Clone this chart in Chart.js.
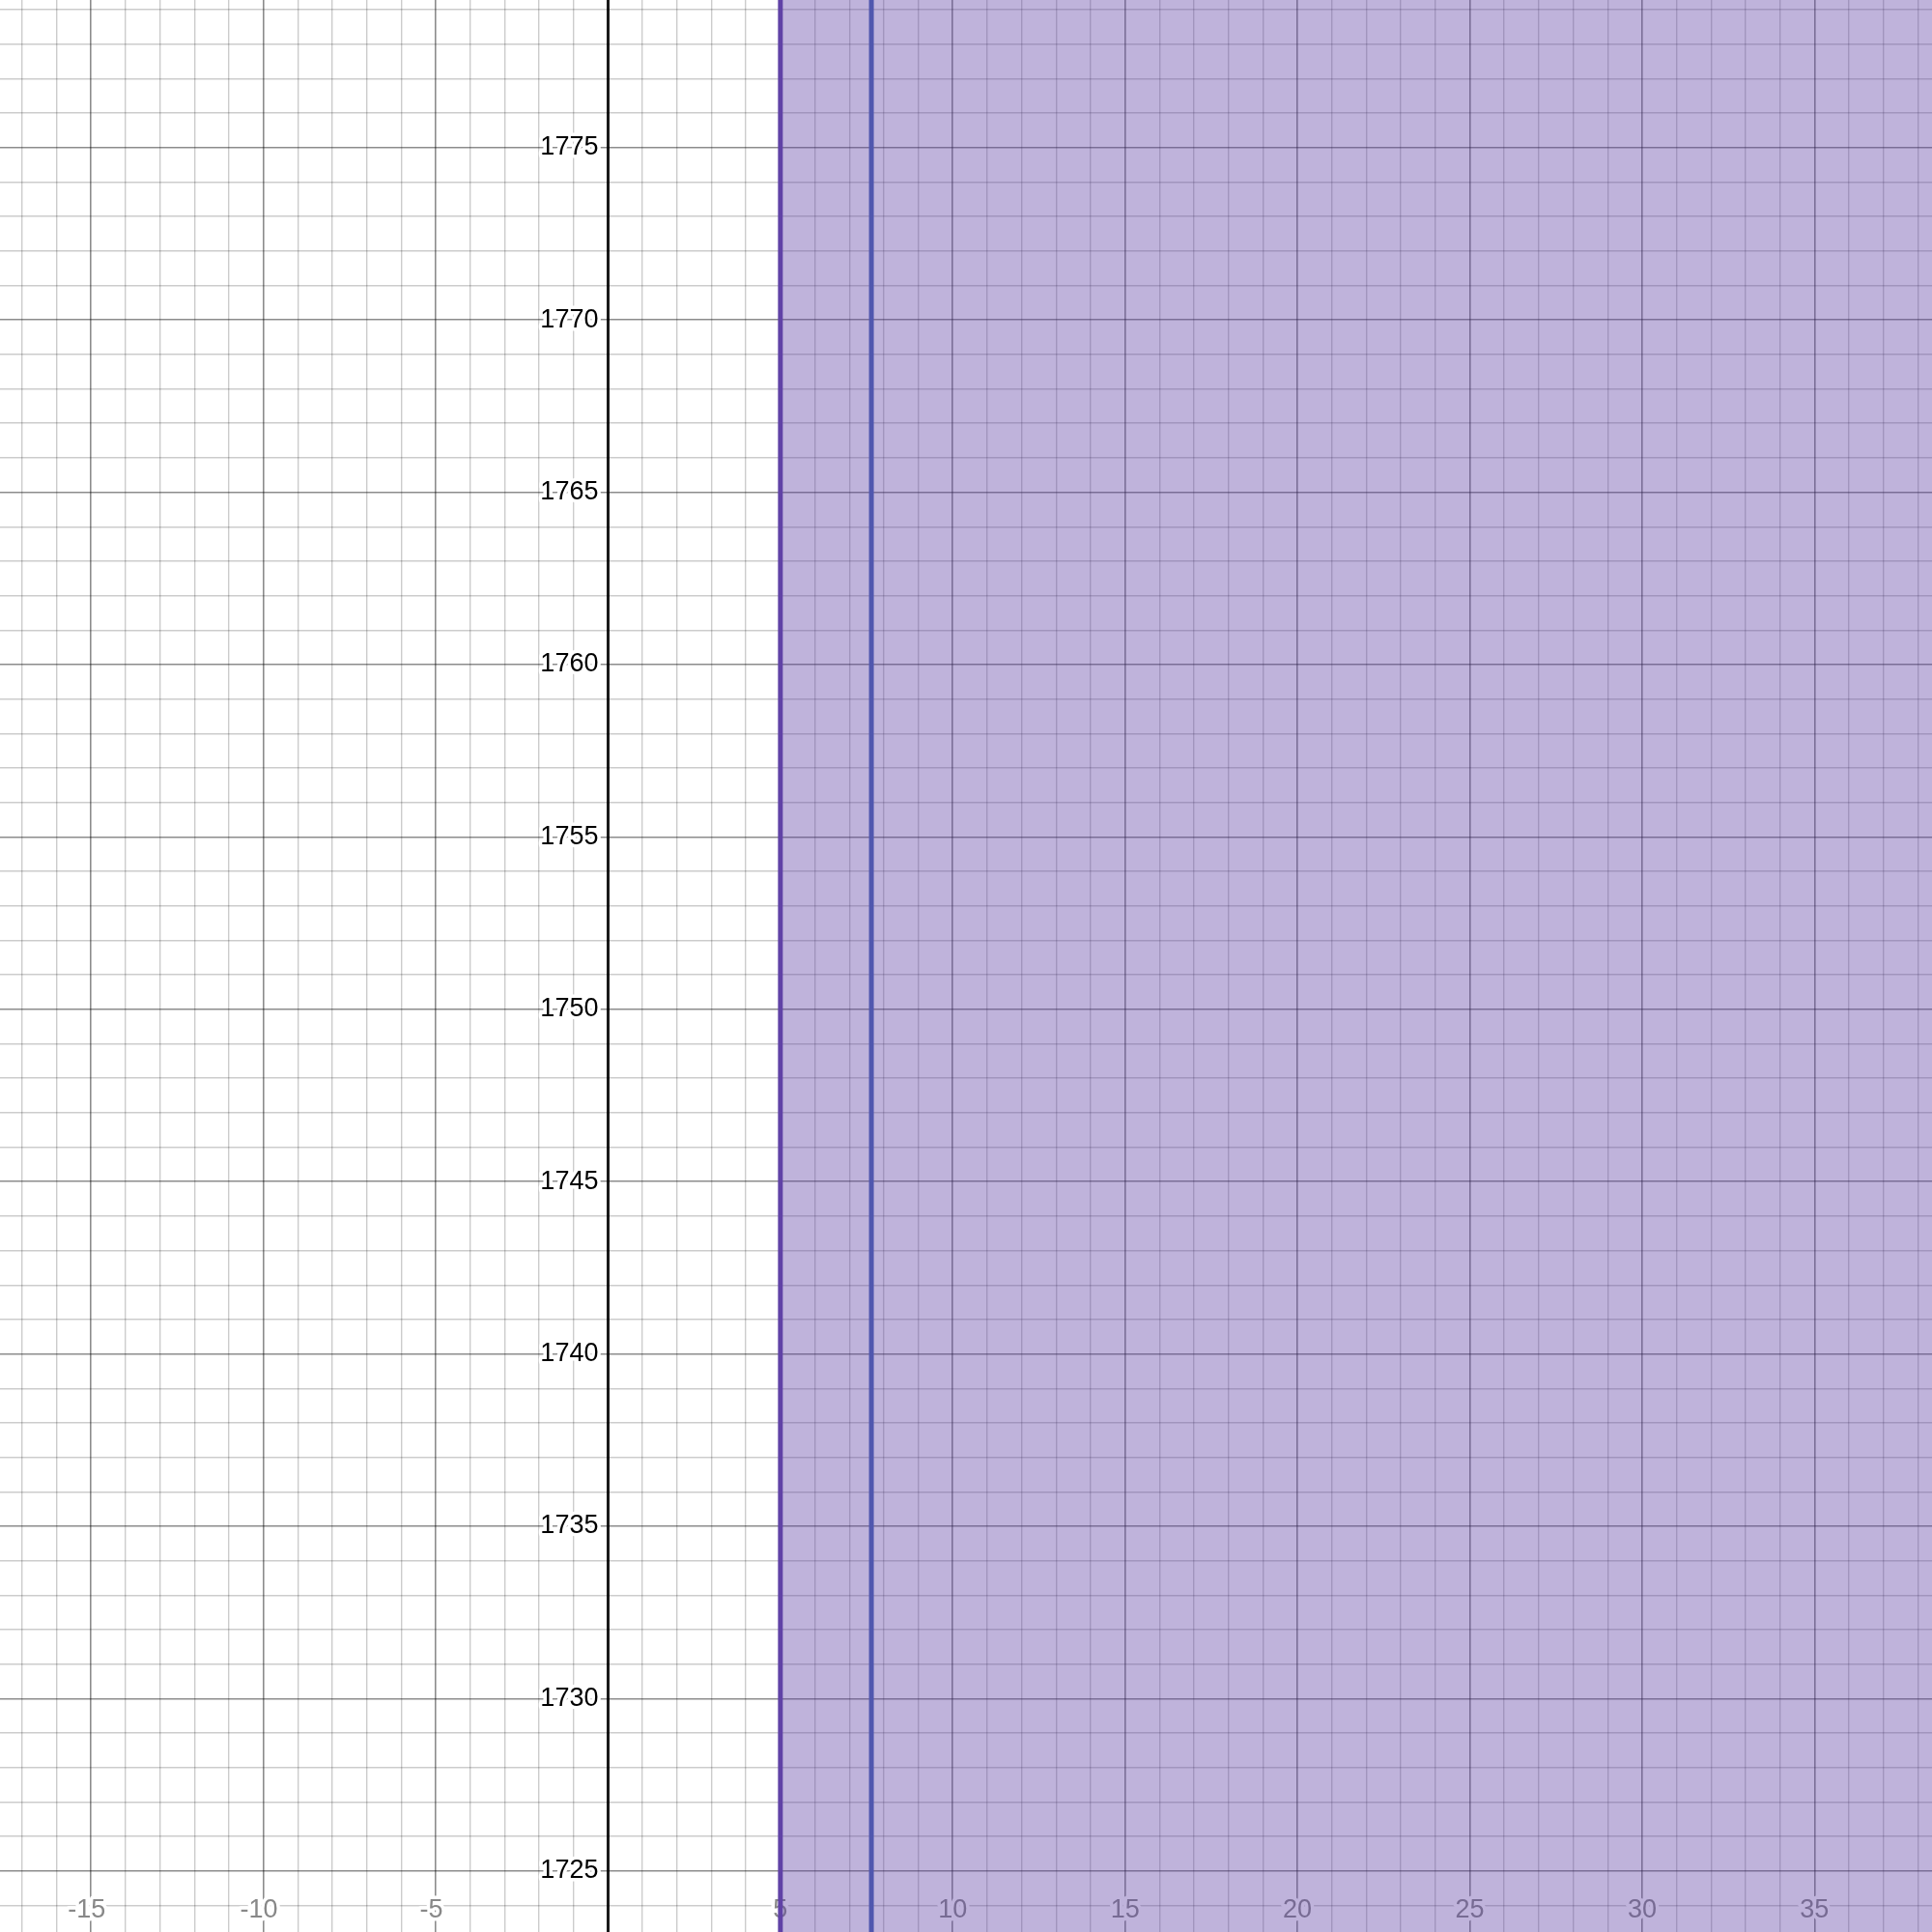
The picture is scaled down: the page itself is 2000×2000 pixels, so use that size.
<!DOCTYPE html>
<html>
<head>
<meta charset="utf-8">
<script src="https://cdn.jsdelivr.net/npm/chart.js@4/dist/chart.umd.min.js"></script>
<style>
  html, body { margin: 0; padding: 0; background: #fff; }
  canvas { display: block; }
</style>
</head>
<body>
<canvas id="grafico" width="2000" height="2000"></canvas>
<script>
// ventana visible
const xRange = [-17.64, 38.41];
const yRange = [1723.23, 1779.28];

// etiquetas de los ejes
const xLabels = [-15, -10, -5, 5, 10, 15, 20, 25, 30, 35];
const yLabels = [1725, 1730, 1735, 1740, 1745, 1750, 1755, 1760, 1765, 1770, 1775];

// region sombreada x >= 5 y linea azul
const shadeStart = [5];
const blueLineX = [7.64];

const fontLabel = '27px "Liberation Sans", Arial, sans-serif';

const gridColor = (ctx) => {
    const v = ctx.tick ? ctx.tick.value : 0;
    if (v === 0 && ctx.scale.axis === 'x') return '#1a1a1a';
    if (Math.round(v) % 5 === 0) return 'rgba(0,0,0,0.45)';
    return 'rgba(0,0,0,0.2)';
};
const gridWidth = (ctx) => {
    const v = ctx.tick ? ctx.tick.value : 0;
    if (v === 0 && ctx.scale.axis === 'x') return 3;
    return Math.round(v) % 5 === 0 ? 1.6 : 1.4;
};

// dibuja etiquetas con halo blanco antes de las series (quedan bajo el sombreado)
const etiquetas = {
    id: 'etiquetas',
    beforeDatasetsDraw(chart) {
        const ctx = chart.ctx;
        const xs = chart.scales.x;
        const ys = chart.scales.y;
        const x0 = xs.getPixelForValue(0);
        ctx.save();
        ctx.font = fontLabel;
        ctx.lineJoin = 'round';
        ctx.lineWidth = 7;
        ctx.strokeStyle = '#fff';

        ctx.textAlign = 'right';
        ctx.textBaseline = 'middle';
        ctx.fillStyle = '#000';
        yLabels.forEach(v => {
            const py = ys.getPixelForValue(v);
            ctx.strokeText(String(v), x0 - 10, py);
            ctx.fillText(String(v), x0 - 10, py);
        });

        // los digitos quedan centrados en la linea, el signo menos cuelga a la izquierda
        ctx.textAlign = 'left';
        ctx.fillStyle = '#888888';
        const minusW = ctx.measureText('-').width;
        xLabels.forEach(v => {
            const px = xs.getPixelForValue(v);
            const digits = String(Math.abs(v));
            const w = ctx.measureText(digits).width;
            const txt = v < 0 ? '-' + digits : digits;
            const left = px - w / 2 - (v < 0 ? minusW : 0);
            const py = chart.height - 22;
            ctx.strokeText(txt, left, py);
            ctx.fillText(txt, left, py);
        });
        ctx.restore();
    }
};

const ctx = document.getElementById('grafico').getContext('2d');

new Chart(ctx, {
    type: 'scatter',
    data: {
        datasets: [
            {
                // linea azul
                data: [{ x: blueLineX[0], y: yRange[0] - 5 }, { x: blueLineX[0], y: yRange[1] + 5 }],
                showLine: true,
                borderColor: '#4767b5',
                borderWidth: 5,
                pointRadius: 0,
                fill: false,
                order: 3,
            },
            {
                // sombreado
                data: [{ x: shadeStart[0], y: yRange[1] + 5 }, { x: xRange[1] + 5, y: yRange[1] + 5 }],
                showLine: true,
                borderWidth: 0,
                borderColor: 'rgba(0,0,0,0)',
                backgroundColor: 'rgba(96,66,166,0.4)',
                pointRadius: 0,
                fill: 'start',
                order: 2,
            },
            {
                // borde de la region
                data: [{ x: shadeStart[0], y: yRange[0] - 5 }, { x: shadeStart[0], y: yRange[1] + 5 }],
                showLine: true,
                borderColor: '#6042a6',
                borderWidth: 5,
                pointRadius: 0,
                fill: false,
                order: 1,
            },
        ],
    },
    options: {
        responsive: false,
        animation: false,
        devicePixelRatio: 1,
        layout: { padding: 0 },
        plugins: {
            legend: { display: false },
            tooltip: { enabled: false },
        },
        scales: {
            x: {
                type: 'linear',
                min: xRange[0],
                max: xRange[1],
                ticks: { display: false, stepSize: 1, includeBounds: false },
                grid: { color: gridColor, lineWidth: gridWidth, drawTicks: false },
                border: { display: false },
            },
            y: {
                type: 'linear',
                min: yRange[0],
                max: yRange[1],
                ticks: { display: false, stepSize: 1, includeBounds: false },
                grid: { color: gridColor, lineWidth: gridWidth, drawTicks: false },
                border: { display: false },
            },
        },
    },
    plugins: [etiquetas],
});
</script>
</body>
</html>
